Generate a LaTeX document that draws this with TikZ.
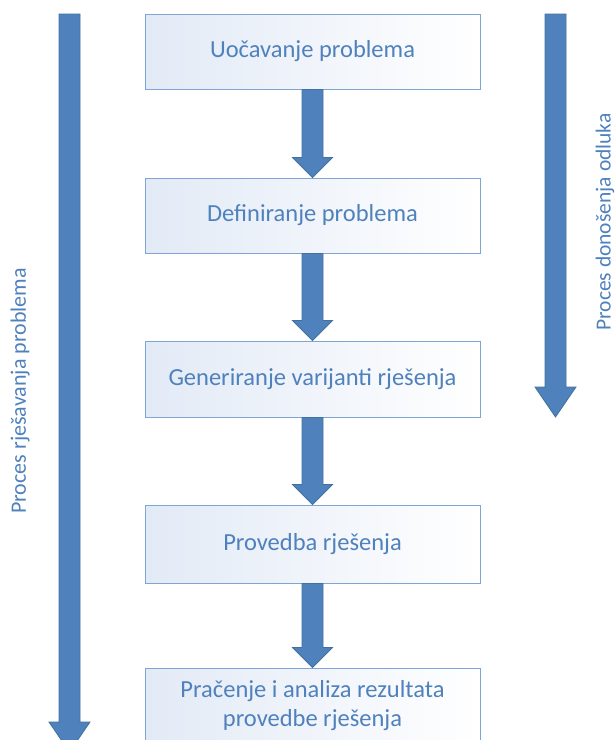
\documentclass[tikz,border=0pt]{standalone}
\usepackage{fontspec}
\setmainfont{Carlito}
\usetikzlibrary{calc}
\definecolor{txtblue}{RGB}{79,129,189}
\definecolor{boxline}{RGB}{126,166,212}
\definecolor{boxfillL}{RGB}{226,234,246}
\definecolor{arrfill}{RGB}{79,129,189}
\definecolor{arrline}{RGB}{65,113,156}
\tikzset{
  stepbox/.style={draw=boxline, line width=1pt, left color=boxfillL, right color=white,
    minimum width=335pt, minimum height=75pt, inner sep=0pt, align=center,
    text=txtblue, font=\fontsize{24.5}{29}\selectfont},
  sidelabel/.style={text=txtblue, font=\fontsize{22}{26}\selectfont, rotate=90, inner sep=0pt},
  blockarrow/.style={fill=arrfill, draw=arrline, line width=0.8pt, line join=miter}
}
\newcommand{\blockarr}[5]{%
  \draw[blockarrow] ($(#1)+(-#3,0)$) -- ($(#1)+(#3,0)$) -- ($(#2)+(#3,-#5)$) -- ($(#2)+(#4,-#5)$)
   -- (#2) -- ($(#2)+(-#4,-#5)$) -- ($(#2)+(-#3,-#5)$) -- cycle;}
\begin{document}
\begin{tikzpicture}[x=1pt,y=-1pt]
\useasboundingbox (0,0) rectangle (615,740);
\clip (0,0) rectangle (615,740);
\node[stepbox] (b1) at (312.5,51.5) {Uočavanje problema};
\node[stepbox] (b2) at (312.5,215.5) {Definiranje problema};
\node[stepbox, minimum height=76pt] (b3) at (312.5,379) {Generiranje varijanti rješenja};
\node[stepbox, minimum height=78pt] (b4) at (312.5,544) {Provedba rješenja};
\node[stepbox] (b5) at (312.5,705.5) {Pračenje i analiza rezultata\\provedbe rješenja};
\blockarr{b1.south}{b2.north}{10.5}{20}{20}
\blockarr{b2.south}{b3.north}{10.5}{20}{20}
\blockarr{b3.south}{b4.north}{10.5}{20}{20}
\blockarr{b4.south}{b5.north}{10.5}{20}{20}
\coordinate (ltop) at (69.5,14);
\coordinate (lend) at (69.5,752);
\coordinate (rtop) at (555.5,14);
\coordinate (rend) at (555.5,417);
\blockarr{ltop}{lend}{10.5}{20.5}{30}
\blockarr{rtop}{rend}{10.5}{20.5}{30}
\node[sidelabel] (lp) at (20,391) {Proces rješavanja problema};
\node[sidelabel, font=\fontsize{21.5}{26}\selectfont] (ld) at (605,222) {Proces donošenja odluka};
\end{tikzpicture}
\end{document}
